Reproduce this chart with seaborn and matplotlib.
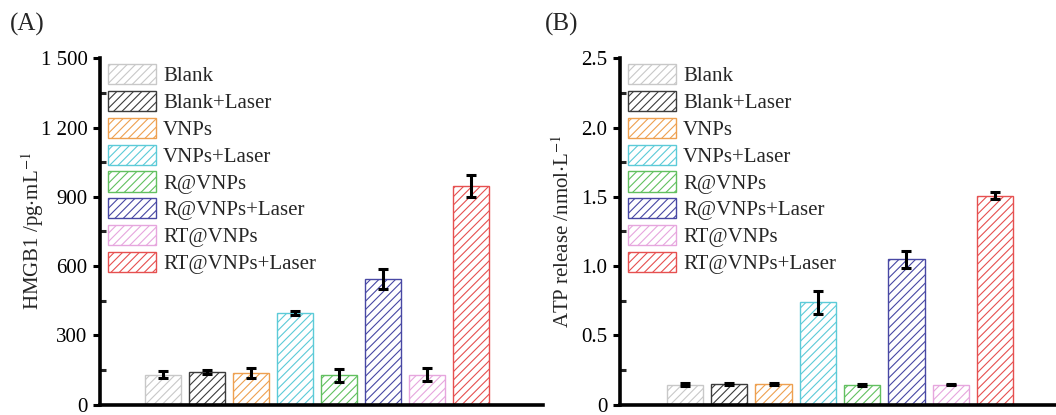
import numpy as np
import pandas as pd
import seaborn as sns
import matplotlib.pyplot as plt
from matplotlib.ticker import MultipleLocator

sns.set_theme(style="ticks")
plt.rcParams['font.family'] = ['Liberation Serif', 'DejaVu Serif']
plt.rcParams['mathtext.fontset'] = 'stix'
plt.rcParams['hatch.linewidth'] = 0.8

groups = ['Blank', 'Blank+Laser', 'VNPs', 'VNPs+Laser', 'R@VNPs',
          'R@VNPs+Laser', 'RT@VNPs', 'RT@VNPs+Laser']
colors = ['#c8c8c8', '#3c3c3c', '#eea050', '#5ccbd8', '#62c060',
          '#4848a4', '#e6a6de', '#e65050']

hmgb1 = [129, 141, 136, 395, 126, 543, 129, 947]
hmgb1_err = [14, 7, 23, 9, 27, 43, 29, 49]
atp = [0.144, 0.148, 0.148, 0.737, 0.139, 1.048, 0.144, 1.507]
atp_err = [0.010, 0.005, 0.005, 0.081, 0.007, 0.060, 0.004, 0.024]

hmgb1_ticks = [0, 300, 600, 900, 1200, 1500]
hmgb1_ticklabels = ['0', '300', '600', '900', '1 200', '1 500']
atp_ticks = [0, 0.5, 1.0, 1.5, 2.0, 2.5]
atp_ticklabels = ['0', '0.5', '1.0', '1.5', '2.0', '2.5']

FS = 15

fig = plt.figure(figsize=(10.56, 4.15), dpi=100)
axA = fig.add_axes([100 / 1056, 10.5 / 415, 443 / 1056, 346.2 / 415])
axB = fig.add_axes([620 / 1056, 10.5 / 415, 436 / 1056, 346.2 / 415])


def draw(ax, vals, errs, ticks, ticklabels, minor, ylabel, xlim, labelx):
    df = pd.DataFrame({'group': groups, 'value': vals})
    sns.barplot(data=df, x='group', y='value', hue='group', order=groups,
                hue_order=groups, palette=colors, width=0.82, legend=False,
                errorbar=None, ax=ax)
    for patch, c in zip(ax.patches, colors):
        patch.set_facecolor('white')
        patch.set_edgecolor(c)
        patch.set_linewidth(1.0)
        patch.set_hatch('////')
    ax.errorbar(np.arange(len(groups)), vals, yerr=errs, fmt='none',
                ecolor='black', elinewidth=2.2, capsize=3.5, capthick=2.2,
                zorder=5)
    ax.set_ylim(0, ticks[-1])
    ax.set_xlim(*xlim)
    ax.set_yticks(ticks)
    ax.set_yticklabels(ticklabels, fontsize=FS)
    ax.yaxis.set_minor_locator(MultipleLocator(minor))
    ax.tick_params(axis='y', which='major', direction='out', length=5,
                   width=2.2, pad=4, colors='black')
    ax.tick_params(axis='y', which='minor', direction='in', length=4,
                   width=2.2)
    ax.tick_params(axis='x', bottom=False, labelbottom=False)
    ax.set_xlabel('')
    ax.set_ylabel(ylabel, fontsize=FS)
    ax.yaxis.set_label_coords(labelx, 0.5)
    for s in ['top', 'right']:
        ax.spines[s].set_visible(False)
    for s in ['left', 'bottom']:
        ax.spines[s].set_linewidth(2.6)
        ax.spines[s].set_color('black')
    ax.legend(handles=ax.patches[:len(groups)], labels=groups,
              loc='upper left', bbox_to_anchor=(0.018, 0.983),
              frameon=False, fontsize=FS, handlelength=2.3,
              handleheight=1.12, handletextpad=0.35, labelspacing=0.22,
              borderpad=0, borderaxespad=0)


draw(axA, hmgb1, hmgb1_err, hmgb1_ticks, hmgb1_ticklabels, 150,
     'HMGB1 /pg$\\cdot$mL$^{-1}$', (-1.43, 8.64), -0.122)
draw(axB, atp, atp_err, atp_ticks, atp_ticklabels, 0.25,
     'ATP release /nmol$\\cdot$L$^{-1}$', (-1.47, 8.38), -0.105)

fig.text(0.009, 0.968, '(A)', fontsize=18, va='top', ha='left')
fig.text(0.516, 0.968, '(B)', fontsize=18, va='top', ha='left')

fig.savefig('out.png', dpi=100)
